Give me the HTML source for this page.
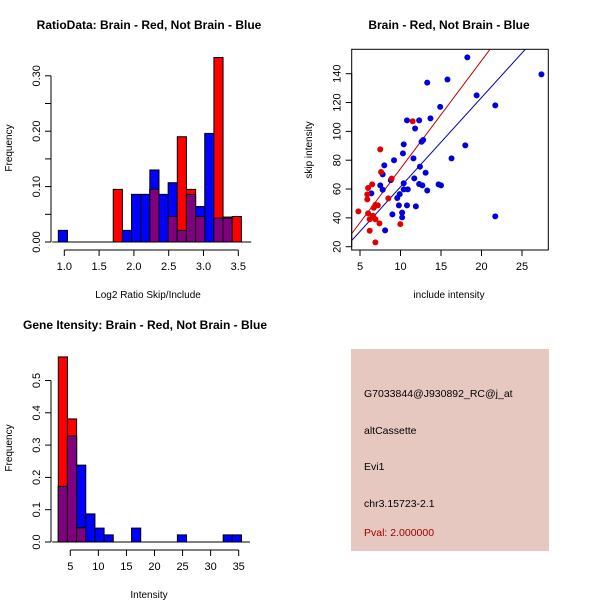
<!DOCTYPE html>
<html><head><meta charset="utf-8"><style>
body{margin:0;background:#fff}
svg{display:block;font-family:"Liberation Sans",sans-serif}
</style></head><body>
<svg id="c" width="600" height="600" viewBox="0 0 600 600">
<rect width="600" height="600" fill="#fff"/>
<g id="p1"></g>
<g id="p2"></g>
<g id="p3"></g>
<g>
<rect x="351" y="349" width="198" height="202" fill="#e6c8c1"/>
<text x="364" y="397" font-size="10.5">G7033844@J930892_RC@j_at</text>
<text x="364" y="434" font-size="10.5">altCassette</text>
<text x="364" y="470" font-size="10.5">Evi1</text>
<text x="364" y="507" font-size="10.5">chr3.15723-2.1</text>
<text x="364" y="536" font-size="10.5" fill="#a00000">Pval: 2.000000</text>
</g>
</svg>
<script>
// ---- Plot 1 data ----
const p1BinStart = 0.914, p1BinWidth = 0.1315;
const p1Blue = [0.021,0,0,0,0,0,0,0.021,0.086,0.086,0.13,0.086,0.107,0.021,0.086,0.064,0.196,0.043,0.043,0];
const p1Red  = [0,0,0,0,0,0,0.095,0,0,0,0.095,0,0.046,0.19,0.095,0.046,0,0.333,0.045,0.046];
const p1XTicks = [1.0,1.5,2.0,2.5,3.0,3.5];
const p1XLabels = ["1.0","1.5","2.0","2.5","3.0","3.5"];
const p1YTicks = [0,0.05,0.1,0.15,0.2,0.25,0.3];
const p1YLabels = ["0.00","","0.10","","0.20","","0.30"];
// ---- Plot 2 data ----
const blueX = [18.25,15.8,13.3,19.4,14.9,21.7,27.4,13.7,10.8,12.3,11.8,12.8,12.6,10.4,10.3,11.6,16.3,18.0,9.2,8.0,7.8,8.8,11.7,12.4,13.1,7.5,7.8,6.4,10.4,10.4,10.9,12.3,12.7,13.3,14.7,15.0,9.9,9.6,9.8,10.8,11.9,10.2,10.2,9.0,21.7,8.1];
const blueY = [151.3,136,133.8,125,117,118,139.5,109,107.6,107.6,102,94,92.8,91,84.7,81.3,81.3,90.3,80,76.4,70.2,66.2,67.4,75.5,71.3,62.5,59.5,57,64,59.8,59.8,63.5,62.5,59,63.2,62.5,56.5,53.8,48.7,48.7,48,43.6,40.3,42.4,41,31.3];
const redX = [4.8,6.0,6.5,5.9,5.9,6.0,6.2,6.2,6.7,6.9,7.2,6.9,7.4,6.9,7.5,7.6,8.5,8.9,9.98,11.5,6.6];
const redY = [44.5,60.7,63.2,56.3,52.8,43.1,39,31.1,47,49,48.7,39,36.2,23,87.5,71.8,53.5,67.2,35.7,107,41.5];
const redFit = [-0.76,7.49];   // intercept, slope
const blueFit = [-0.36,6.19];
const p2XTicks = [5,10,15,20,25];
const p2YTicks = [20,40,60,80,100,120,140];
// ---- Plot 3 data ----
const p3BinStart = 2.86, p3BinWidth = 1.632;
const p3Blue = [0.172,0.328,0.238,0.087,0.043,0.022,0,0,0.043,0,0,0,0,0.022,0,0,0,0,0.022,0.022];
const p3Red  = [0.573,0.381,0.044,0,0,0,0,0,0,0,0,0,0,0,0,0,0,0,0,0];
const p3XTicks = [5,10,15,20,25,30,35];
const p3YTicks = [0,0.1,0.2,0.3,0.4,0.5];
const p3YLabels = ["0.0","0.1","0.2","0.3","0.4","0.5"];

const NS="http://www.w3.org/2000/svg";
function mk(parent,tag,attrs,text){const e=document.createElementNS(NS,tag);for(const k in attrs)e.setAttribute(k,attrs[k]);if(text!==undefined)e.textContent=text;parent.appendChild(e);return e;}
function lin(d0,d1,r0,r1){return v=>r0+(v-d0)*(r1-r0)/(d1-d0);}

function hist(g,cfg){
  const sx=cfg.sx, sy=cfg.sy;
  const n=cfg.blue.length;
  for(let i=0;i<n;i++){
    const x0=sx(cfg.start+i*cfg.w), x1=sx(cfg.start+(i+1)*cfg.w);
    const b=cfg.blue[i], r=cfg.red[i];
    const lo=Math.min(b,r);
    if(b>0){const e=mk(g,'rect',{x:x0,y:sy(b),width:x1-x0,height:sy(0)-sy(b),fill:'#0000ff',stroke:'#000','stroke-width':1});
      
      }
    if(r>0){const e=mk(g,'rect',{x:x0,y:sy(r),width:x1-x0,height:sy(0)-sy(r),fill:'#ff0000',stroke:'#000','stroke-width':1});
      
      }
    if(lo>0){const e=mk(g,'rect',{x:x0,y:sy(lo),width:x1-x0,height:sy(0)-sy(lo),fill:'#80007f',stroke:'#000','stroke-width':1});
      
      }
  }
}
function xaxis(g,sx,ticks,labels,y,name){
  const ax=mk(g,'g',{});
  
  
  mk(ax,'line',{x1:sx(ticks[0]),x2:sx(ticks[ticks.length-1]),y1:y,y2:y,stroke:'#000'});
  ticks.forEach((t,i)=>{mk(ax,'line',{x1:sx(t),x2:sx(t),y1:y,y2:y+6,stroke:'#000'});
    mk(ax,'text',{x:sx(t),y:y+20,'font-size':11,'text-anchor':'middle'},labels[i]);});
}
function yaxis(g,sy,ticks,labels,x,name){
  const ax=mk(g,'g',{});
  
  
  mk(ax,'line',{x1:x,x2:x,y1:sy(ticks[0]),y2:sy(ticks[ticks.length-1]),stroke:'#000'});
  ticks.forEach((t,i)=>{mk(ax,'line',{x1:x,x2:x-6,y1:sy(t),y2:sy(t),stroke:'#000'});
    if(labels[i]!=="") mk(ax,'text',{x:x-11,y:sy(t),'font-size':11,'text-anchor':'middle',transform:`rotate(-90 ${x-11} ${sy(t)})`},labels[i]);});
}
function label(g,txt,x,y,opts,name){
  const e=mk(g,'text',Object.assign({x:x,y:y,'text-anchor':'middle','font-size':10},opts||{}),txt);
  
  
}

// Plot 1
(function(){
  const g=document.getElementById('p1');
  const sx=lin(1.0,3.5,64.3,238.3), sy=lin(0,0.3,242,75.8);
  hist(g,{sx,sy,start:p1BinStart,w:p1BinWidth,blue:p1Blue,red:p1Red});
  mk(g,'line',{x1:sx(p1BinStart)-6,x2:sx(3.6)+6,y1:242,y2:242,stroke:'#000'});
  xaxis(g,sx,p1XTicks,p1XLabels,250,'x-axis');
  yaxis(g,sy,p1YTicks,p1YLabels,51,'y-axis');
  label(g,'RatioData: Brain - Red, Not Brain - Blue',149,29,{'font-size':12,'font-weight':'bold'},'chart-title');
  label(g,'Log2 Ratio Skip/Include',148,298,{},'x-axis-title');
  label(g,'Frequency',12,148,{transform:'rotate(-90 12 148)'},'y-axis-title');
})();

// Plot 2
(function(){
  const g=document.getElementById('p2');
  const sx=lin(5,25,360,522), sy=lin(20,140,246.7,73.7);
  const L=351.7,R=548.3,T=49.3,B=250;
  mk(g,'rect',{x:L,y:T,width:R-L,height:B-T,fill:'none',stroke:'#000'});
  const cp=mk(g,'clipPath',{id:'cl'}); mk(cp,'rect',{x:L,y:T,width:R-L,height:B-T});
  const inner=mk(g,'g',{'clip-path':'url(#cl)'});
  [[redFit,'#c00000','fit-line-red'],[blueFit,'#0000b0','fit-line-blue']].forEach(([f,c,n])=>{
    const x0=3,x1=30;
    const e=mk(inner,'line',{x1:sx(x0),y1:sy(f[0]+f[1]*x0),x2:sx(x1),y2:sy(f[0]+f[1]*x1),stroke:c,'stroke-width':1});
    
    
  });
  blueX.forEach((x,i)=>{const e=mk(inner,'circle',{cx:sx(x),cy:sy(blueY[i]),r:3,fill:'#0000dd'});
    
    });
  redX.forEach((x,i)=>{const e=mk(inner,'circle',{cx:sx(x),cy:sy(redY[i]),r:3,fill:'#e00000'});
    
    });
  xaxis(g,sx,p2XTicks,p2XTicks.map(String),250,'x-axis');
  yaxis(g,sy,p2YTicks,p2YTicks.map(String),351.7,'y-axis');
  label(g,'Brain - Red, Not Brain - Blue',449,29,{'font-size':12,'font-weight':'bold'},'chart-title');
  label(g,'include intensity',449,298,{},'x-axis-title');
  label(g,'skip intensity',312,150,{transform:'rotate(-90 312 150)'},'y-axis-title');
})();

// Plot 3
(function(){
  const g=document.getElementById('p3');
  const sx=lin(5,35,70.3,238.7), sy=lin(0,0.5,542,380.5);
  hist(g,{sx,sy,start:p3BinStart,w:p3BinWidth,blue:p3Blue,red:p3Red});
  mk(g,'line',{x1:sx(p3BinStart)-6,x2:sx(37),y1:542,y2:542,stroke:'#000'});
  xaxis(g,sx,p3XTicks,p3XTicks.map(String),550,'x-axis');
  yaxis(g,sy,p3YTicks,p3YLabels,51,'y-axis');
  label(g,'Gene Itensity: Brain - Red, Not Brain - Blue',145,329,{'font-size':12,'font-weight':'bold'},'chart-title');
  label(g,'Intensity',149,598,{},'x-axis-title');
  label(g,'Frequency',12,448,{transform:'rotate(-90 12 448)'},'y-axis-title');
})();
</script>
</body></html>
